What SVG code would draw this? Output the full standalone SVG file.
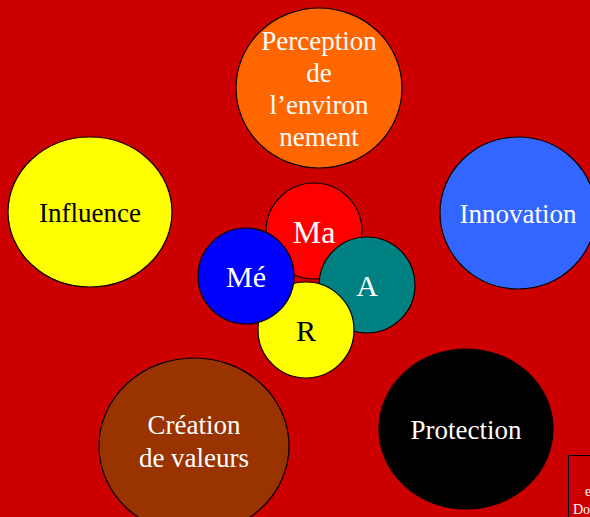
<svg xmlns="http://www.w3.org/2000/svg" width="590" height="517" viewBox="0 0 590 517">
<style>
.n{stroke:#000;stroke-width:1.2}
.t{text-anchor:middle}
.w{fill:#fff}
.k{fill:#000}
</style>
<rect width="590" height="517" fill="#cc0000"/>
<g font-family="Liberation Serif, serif">
<g id="perception"><ellipse class="n" cx="319" cy="88" rx="83" ry="80" fill="#ff6600"/>
<text class="t w" font-size="27" x="319" y="50">Perception</text>
<text class="t w" font-size="27" x="319" y="82">de</text>
<text class="t w" font-size="27" x="319" y="114">l’environ</text>
<text class="t w" font-size="27" x="319" y="146">nement</text></g>
<g id="influence"><ellipse class="n" cx="90" cy="212" rx="82" ry="75" fill="#ffff00"/>
<text class="t k" font-size="27" x="90" y="222">Influence</text></g>
<g id="innovation"><ellipse class="n" cx="518" cy="213" rx="78" ry="76" fill="#3366ff"/>
<text class="t w" font-size="27" x="518" y="223">Innovation</text></g>
<g id="creation"><ellipse class="n" cx="194" cy="446" rx="95" ry="88" fill="#993300"/>
<text class="t w" font-size="27" x="194" y="434">Création</text>
<text class="t w" font-size="27" x="194" y="467">de valeurs</text></g>
<g id="protection"><ellipse class="n" cx="466" cy="429" rx="87" ry="80" fill="#000"/>
<text class="t w" font-size="27" x="466" y="439">Protection</text></g>
<g id="ma"><circle class="n" cx="314" cy="231" r="48" fill="#ff0000"/>
<text class="t w" font-size="32" x="314" y="243">Ma</text></g>
<g id="a"><circle class="n" cx="367" cy="285" r="48" fill="#008080"/>
<text class="t w" font-size="30" x="367" y="296">A</text></g>
<g id="r"><circle class="n" cx="306" cy="330" r="48" fill="#ffff00"/>
<text class="t k" font-size="30" x="306" y="341">R</text></g>
<g id="me"><circle class="n" cx="246" cy="276" r="48" fill="#0000ff"/>
<text class="t w" font-size="30" x="246" y="287">Mé</text></g>
<g id="corner"><rect x="568.5" y="455.5" width="40" height="80" fill="none" stroke="#000" stroke-width="1"/>
<text class="w" font-size="14" x="585" y="496">e</text>
<text class="w" font-size="14" x="573" y="514">Do</text></g>
</g>
<g id="connectors"/>
</svg>
